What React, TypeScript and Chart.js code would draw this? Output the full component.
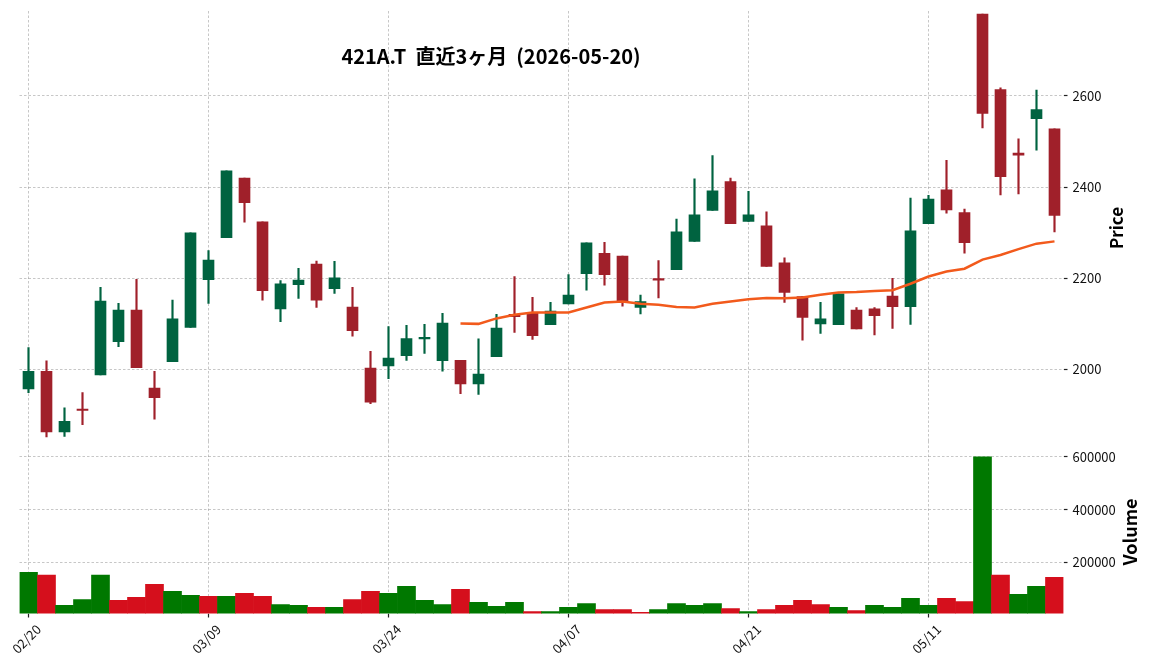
import { useEffect, useRef } from 'react';
import { Chart, registerables } from 'chart.js';

Chart.register(...registerables);

const dates = [
  '02/20', '02/24', '02/25', '02/26', '02/27', '03/02', '03/03', '03/04', '03/05', '03/06',
  '03/09', '03/10', '03/11', '03/12', '03/13', '03/16', '03/17', '03/18', '03/19', '03/23',
  '03/24', '03/25', '03/26', '03/27', '03/30', '03/31', '04/01', '04/02', '04/03', '04/06',
  '04/07', '04/08', '04/09', '04/10', '04/13', '04/14', '04/15', '04/16', '04/17', '04/20',
  '04/21', '04/22', '04/23', '04/24', '04/27', '04/28', '04/30', '05/01', '05/07', '05/08',
  '05/11', '05/12', '05/13', '05/14', '05/15', '05/18', '05/19', '05/20',
];

const opens = [
  1957, 1996, 1863, 1912, 1988, 2061, 2130, 1959, 2017, 2092,
  2197, 2289, 2420, 2324, 2133, 2186, 2231, 2177, 2137, 2003,
  2008, 2030, 2067, 2019, 2020, 1968, 2028, 2121, 2123, 2098,
  2144, 2210, 2255, 2249, 2136, 2199, 2219, 2281, 2349, 2412,
  2325, 2315, 2234, 2160, 2100, 2098, 2130, 2133, 2161, 2138,
  2320, 2394, 2344, 2780, 2614, 2475, 2550, 2528,
];

const highs = [
  2048, 2019, 1916, 1949, 2180, 2145, 2198, 1996, 2152, 2300,
  2261, 2436, 2420, 2324, 2195, 2222, 2238, 2237, 2180, 2040,
  2094, 2097, 2099, 2123, 2020, 2067, 2121, 2204, 2158, 2147,
  2208, 2278, 2279, 2249, 2163, 2239, 2330, 2418, 2469, 2420,
  2391, 2346, 2245, 2160, 2147, 2166, 2136, 2136, 2200, 2376,
  2382, 2459, 2352, 2780, 2618, 2506, 2613, 2528,
];

const lows = [
  1949, 1852, 1853, 1879, 1988, 2050, 2004, 1891, 2017, 2092,
  2145, 2289, 2323, 2152, 2105, 2156, 2136, 2167, 2073, 1925,
  1980, 2020, 2035, 1996, 1947, 1945, 2028, 2081, 2066, 2098,
  2144, 2174, 2185, 2139, 2122, 2157, 2219, 2281, 2349, 2320,
  2325, 2226, 2147, 2064, 2079, 2098, 2089, 2076, 2090, 2099,
  2320, 2343, 2255, 2530, 2383, 2385, 2481, 2302,
];

const closes = [
  1996, 1863, 1886, 1910, 2150, 2130, 2004, 1938, 2111, 2300,
  2240, 2436, 2366, 2173, 2188, 2196, 2152, 2201, 2085, 1928,
  2025, 2068, 2069, 2102, 1968, 1990, 2091, 2116, 2074, 2128,
  2163, 2278, 2208, 2151, 2149, 2196, 2302, 2339, 2392, 2320,
  2339, 2226, 2169, 2114, 2111, 2166, 2089, 2118, 2138, 2304,
  2374, 2350, 2278, 2562, 2423, 2470, 2570, 2338,
];

const volumes = [
  163000, 152000, 37500, 60000, 152000, 56500, 68000, 117500, 91000, 75500,
  72000, 72000, 83000, 72000, 41000, 37500, 30000, 30000, 60000, 91000,
  83000, 110000, 56500, 41000, 98500, 49000, 34000, 49000, 14500, 14500,
  30000, 45000, 22000, 22000, 11000, 22000, 45000, 37500, 45000, 26000,
  14500, 22000, 37500, 56500, 41000, 30000, 18500, 37500, 30000, 64000,
  37500, 64000, 52500, 600000, 152000, 79500, 110000, 144000,
];

const ma25 = [
  null, null, null, null, null, null, null, null, null, null,
  null, null, null, null, null, null, null, null, null, null,
  null, null, null, null, 2101, 2100, 2112, 2120, 2125, 2125,
  2125, 2136, 2147, 2149, 2144, 2142, 2137, 2136, 2144, 2149,
  2154, 2157, 2156, 2158, 2164, 2169, 2170, 2172, 2174, 2188,
  2204, 2215, 2221, 2241, 2251, 2264, 2276, 2281,
];

const xTickIndices = [0, 10, 20, 30, 40, 50];
const priceTicks = [2000, 2200, 2400, 2600];
const volumeTicks = [200000, 400000, 600000];
const chartTitle = '421A.T  直近3ヶ月  (2026-05-20)';
const priceLabel = 'Price';
const volumeLabel = 'Volume';

const UP = '#006340';
const DOWN = '#a0202a';
const VOL_UP = '#007800';
const VOL_DOWN = '#d50f1c';
const MA_COLOR = '#f25a1c';
const GRID = 'rgba(0,0,0,0.28)';
const TICK_FONT = { family: '"Noto Sans CJK JP", sans-serif', size: 13 };
const LABEL_FONT = 'bold 17px "Noto Sans CJK JP", sans-serif';

const xGridCommon = {
  offset: false,
  color: GRID,
  lineWidth: 0.8,
};

function fixedTicks(values: number[]) {
  return (scale: any) => {
    scale.ticks = values.map((v) => ({ value: v }));
  };
}

function fixWidth(w: number) {
  return (s: any) => {
    s.width = w;
    s.paddingTop = 0;
    s.paddingBottom = 0;
  };
}

function fixHeight(h: number) {
  return (s: any) => {
    s.height = h;
    s.paddingLeft = 0;
    s.paddingRight = 0;
  };
}

const textPlugin = (items: { text: string; x: number; y: number; font: string; rotate?: boolean; baseline?: CanvasTextBaseline }[]) => ({
  id: 'texts',
  afterDraw(chart: any) {
    const ctx = chart.ctx as CanvasRenderingContext2D;
    for (const it of items) {
      ctx.save();
      ctx.fillStyle = '#000';
      ctx.font = it.font;
      ctx.textAlign = 'center';
      ctx.textBaseline = it.baseline || 'middle';
      ctx.translate(it.x, it.y);
      if (it.rotate) ctx.rotate(-Math.PI / 2);
      ctx.fillText(it.text, 0, 0);
      ctx.restore();
    }
  },
});

export default function App() {
  const priceRef = useRef<HTMLCanvasElement>(null);
  const volRef = useRef<HTMLCanvasElement>(null);

  useEffect(() => {
    const candleColors = opens.map((o, i) => (closes[i] >= o ? UP : DOWN));
    const volColors = closes.map((c, i) => (i === 0 || c >= closes[i - 1] ? VOL_UP : VOL_DOWN));
    const plainNumber = (v: any) => String(v);

    const priceChart = new Chart(priceRef.current as HTMLCanvasElement, {
      type: 'bar',
      data: {
        labels: dates,
        datasets: [
          {
            type: 'line',
            data: ma25 as any,
            borderColor: MA_COLOR,
            borderWidth: 2.5,
            pointRadius: 0,
            tension: 0,
            spanGaps: false,
          } as any,
          {
            type: 'bar',
            data: opens.map((o, i) => [o, closes[i]]) as any,
            backgroundColor: candleColors,
            barThickness: 11,
            minBarLength: 1.5,
            grouped: false,
          } as any,
          {
            type: 'bar',
            data: lows.map((l, i) => [l, highs[i]]) as any,
            backgroundColor: candleColors,
            barThickness: 1.5,
            grouped: false,
          } as any,
        ],
      },
      options: {
        responsive: false,
        animation: false,
        devicePixelRatio: 1,
        events: [],
        layout: { padding: { top: 11, left: 19.5, right: 0, bottom: 0 } },
        plugins: { legend: { display: false }, tooltip: { enabled: false } },
        scales: {
          x: {
            type: 'category',
            offset: true,
            grid: { ...xGridCommon, drawTicks: false },
            border: { display: false, dash: [2.5, 2] },
            ticks: { display: false, autoSkip: false },
            afterBuildTicks: fixedTicks(xTickIndices),
            afterFit: fixHeight(0),
          },
          y: {
            position: 'right',
            min: 1843,
            max: 2786.5,
            grid: { color: GRID, lineWidth: 0.8, tickLength: 4, tickColor: '#222', tickWidth: 1.2 },
            border: { display: false, dash: [2.5, 2] },
            ticks: { font: TICK_FONT, color: '#111', padding: 5, callback: plainNumber },
            afterBuildTicks: fixedTicks(priceTicks),
            afterFit: fixWidth(88.5),
          },
        },
      } as any,
      plugins: [
        textPlugin([
          { text: chartTitle, x: 491, y: 63.5, font: 'bold 20px "Noto Sans CJK JP", sans-serif', baseline: 'alphabetic' },
          { text: priceLabel, x: 1117, y: 228, font: LABEL_FONT, rotate: true },
        ]),
      ],
    });

    const volChart = new Chart(volRef.current as HTMLCanvasElement, {
      type: 'bar',
      data: {
        labels: dates,
        datasets: [
          {
            data: volumes,
            backgroundColor: volColors,
            barPercentage: 1,
            categoryPercentage: 1,
            borderWidth: 0,
          },
        ],
      },
      options: {
        responsive: false,
        animation: false,
        devicePixelRatio: 1,
        events: [],
        layout: { padding: { top: 0, left: 19.5, right: 0, bottom: 0 } },
        plugins: { legend: { display: false }, tooltip: { enabled: false } },
        scales: {
          x: {
            type: 'category',
            offset: true,
            grid: { ...xGridCommon, drawTicks: true, tickLength: 4, tickColor: '#222', tickWidth: 1.2 },
            border: { display: false, dash: [2.5, 2] },
            ticks: {
              autoSkip: false,
              minRotation: 45,
              maxRotation: 45,
              font: TICK_FONT,
              color: '#111',
              padding: 4,
              labelOffset: 10,
            },
            afterBuildTicks: fixedTicks(xTickIndices),
            afterFit: fixHeight(56.5),
          },
          y: {
            position: 'right',
            min: 7000,
            max: 660000,
            grid: { color: GRID, lineWidth: 0.8, tickLength: 4, tickColor: '#222', tickWidth: 1.2 },
            border: { display: false, dash: [2.5, 2] },
            ticks: { font: TICK_FONT, color: '#111', padding: 5, callback: plainNumber },
            afterBuildTicks: fixedTicks(volumeTicks),
            afterFit: fixWidth(88.5),
          },
        },
      } as any,
      plugins: [
        textPlugin([
          { text: volumeLabel, x: 1130, y: 91, font: 'bold 18px "Noto Sans CJK JP", sans-serif', rotate: true },
        ]),
      ],
    });

    return () => {
      priceChart.destroy();
      volChart.destroy();
    };
  }, []);

  return (
    <div style={{ position: 'fixed', left: 0, top: 0, width: 1152, height: 670, background: '#fff' }}>
      <canvas ref={priceRef} width={1152} height={441} style={{ position: 'absolute', left: 0, top: 0 }} />
      <canvas ref={volRef} width={1152} height={229} style={{ position: 'absolute', left: 0, top: 441 }} />
    </div>
  );
}
